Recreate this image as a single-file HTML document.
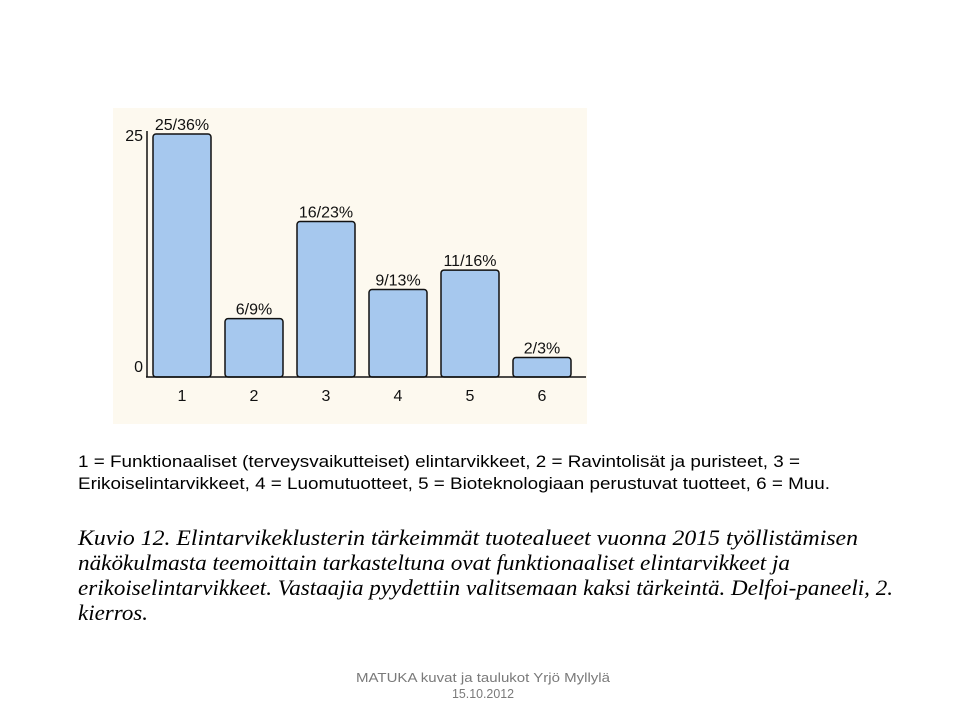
<!DOCTYPE html>
<html><head><meta charset="utf-8">
<style>
body{margin:0;width:960px;height:720px;background:#fff;position:relative;overflow:hidden;font-family:"Liberation Sans",sans-serif}
#chart{position:absolute;left:113px;top:108px;width:474px;height:316px;background:#fdf9ef}
.fit{position:absolute;white-space:nowrap;transform-origin:0 0;display:block}
.lg{font-size:17px;line-height:20px;color:#000}
.cp{font-family:"Liberation Serif",serif;font-style:italic;font-size:22px;line-height:25px}
.ft{font-size:13px;line-height:16px;color:#7a7a7a}
</style></head><body>
<svg id="chart" width="474" height="316" viewBox="113 108 474 316" xmlns="http://www.w3.org/2000/svg" font-family="Liberation Sans, sans-serif" font-size="16"></svg>
<div>
<span class="fit lg" data-w="722" style="left:78px;top:452px">1 = Funktionaaliset (terveysvaikutteiset) elintarvikkeet, 2 = Ravintolisät ja puristeet, 3 =</span>
<span class="fit lg" data-w="752" style="left:78px;top:474px">Erikoiselintarvikkeet, 4 = Luomutuotteet, 5 = Bioteknologiaan perustuvat tuotteet, 6 = Muu.</span>
</div>
<div>
<span class="fit cp" data-w="780" style="left:78px;top:525px">Kuvio 12. Elintarvikeklusterin tärkeimmät tuotealueet vuonna 2015 työllistämisen</span>
<span class="fit cp" data-w="712" style="left:78px;top:550px">näkökulmasta teemoittain tarkasteltuna ovat funktionaaliset elintarvikkeet ja</span>
<span class="fit cp" data-w="815" style="left:78px;top:575px">erikoiselintarvikkeet. Vastaajia pyydettiin valitsemaan kaksi tärkeintä. Delfoi-paneeli, 2.</span>
<span class="fit cp" data-w="70" style="left:78px;top:600px">kierros.</span>
</div>
<div>
<span class="fit ft" data-w="254" style="left:356px;top:670px">MATUKA kuvat ja taulukot Yrjö Myllylä</span>
<span class="fit ft" data-w="62" style="left:452px;top:686px">15.10.2012</span>
</div>
<script>
const categories=["1","2","3","4","5","6"];
const values=[25,6,16,9,11,2];
const valueLabels=["25/36%","6/9%","16/23%","9/13%","11/16%","2/3%"];
const yTicks=[0,25];
const svg=document.getElementById('chart');
const NS="http://www.w3.org/2000/svg";
const base=377, scale=243/25, x0=153, step=72, bw=58;
const y=v=>base-v*scale;
const x=i=>x0+i*step;
function mk(t,a){const e=document.createElementNS(NS,t);for(const k in a)e.setAttribute(k,a[k]);svg.appendChild(e);return e;}
values.forEach((v,i)=>{
 const r=mk('rect',{x:x(i),y:y(v),width:bw,height:v*scale,rx:3,fill:'#a6c8ee',stroke:'#111','stroke-width':1.5});
 
 
 const t=mk('text',{x:x(i)+bw/2,y:y(v)-4,'text-anchor':'middle',fill:'#111'});t.textContent=valueLabels[i];
 
 
 const c=mk('text',{x:x(i)+bw/2,y:401,'text-anchor':'middle',fill:'#111'});c.textContent=categories[i];
 
 
});
yTicks.forEach(v=>{
 const t=mk('text',{x:143,y:y(v)-1+ (v===0?-4:8),'text-anchor':'end',fill:'#111'});t.textContent=v;
 
 
});
const ax=mk('line',{x1:147,y1:y(25)-3,x2:147,y2:base,stroke:'#111','stroke-width':1.5});


const bx=mk('line',{x1:146,y1:base,x2:586,y2:base,stroke:'#111','stroke-width':1.5});


document.querySelectorAll('.fit').forEach(s=>{
 const w=s.getBoundingClientRect().width;
 s.style.transform='scaleX('+(parseFloat(s.dataset.w)/w)+')';
});
</script>
</body></html>
